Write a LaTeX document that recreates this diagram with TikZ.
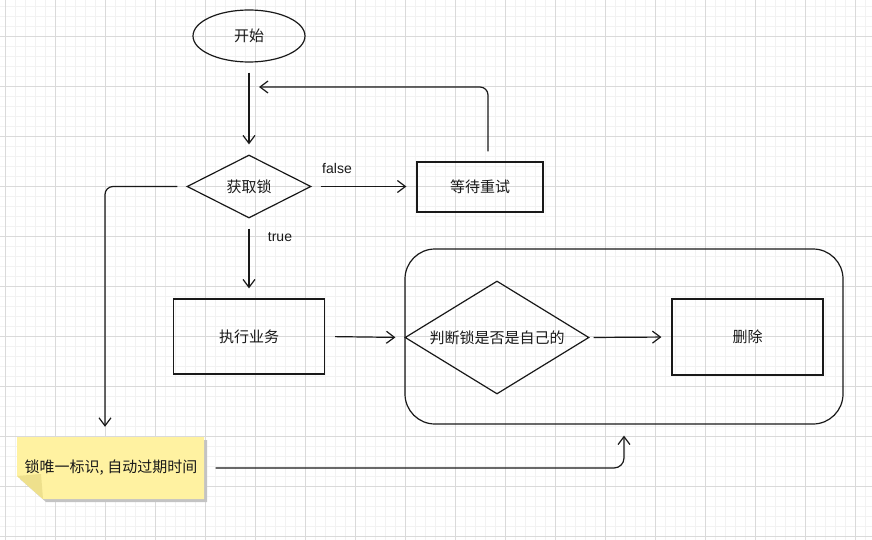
\documentclass[tikz,border=0pt]{standalone}
\usepackage{fontspec}
\setmainfont{Liberation Sans}
\newfontfamily\cjk{Noto Sans CJK SC}
\usepackage{tikz}
\usetikzlibrary{shapes.geometric,arrows.meta,calc}
\definecolor{minorgrid}{RGB}{242,242,242}
\definecolor{majorgrid}{RGB}{218,218,218}
\definecolor{notefill}{RGB}{255,242,161}
\definecolor{notefold}{RGB}{238,224,140}
\definecolor{noteshadow}{RGB}{195,195,195}
\definecolor{ink}{RGB}{25,25,25}

\begin{document}
\begin{tikzpicture}[x=1pt,y=-1pt,
  font=\cjk\fontsize{15}{17}\selectfont,
  every node/.style={text=ink},
  box/.style={draw=ink, line width=1.2pt, rectangle, inner sep=0pt},
  cond/.style={draw=ink, line width=1.2pt, diamond, aspect=1.6, inner sep=0pt},
  link/.style={draw=ink, line width=1.2pt, -{Straight Barb[length=8pt,width=12pt]},
    shorten >=10pt, shorten <=10pt},
  lbl/.style={font=\rmfamily\fontsize{14}{16}\selectfont}
]
\useasboundingbox (0,0) rectangle (872,540);
\fill[white] (0,0) rectangle (872,540);

% grid
\foreach \gx in {5,15,...,865}
    \draw[minorgrid, line width=0.8pt] (\gx,0) -- (\gx,540);
\foreach \gy in {6,16,...,536}
    \draw[minorgrid, line width=0.8pt] (0,\gy) -- (872,\gy);
\foreach \gx in {5,55,...,855}
    \draw[majorgrid, line width=0.8pt] (\gx,0) -- (\gx,540);
\foreach \gy in {36,86,...,536}
    \draw[majorgrid, line width=0.8pt] (0,\gy) -- (872,\gy);

% flow
\node[ellipse, draw=ink, line width=1.2pt, minimum width=112pt, minimum height=52pt] (start) at (249,36) {开始};
\node[cond, minimum width=124pt, minimum height=63pt] (lock) at (249,186.5) {获取锁};
\node[box, minimum width=126pt, minimum height=50pt] (wait) at (480,187) {等待重试};
\node[box, minimum width=151pt, minimum height=75pt] (exec) at (249,336.5) {执行业务};
\node[draw=ink, line width=1.2pt, rounded corners=30pt, minimum width=438pt, minimum height=175pt] (grp) at (624,336.5) {};
\node[cond, minimum width=184pt, minimum height=113pt] (check) at (497,337.5) {判断锁是否是自己的};
\node[box, minimum width=151pt, minimum height=76pt] (del) at (747.5,337) {删除};

% sticky note
\fill[noteshadow] (20,440) -- (207,440) -- (207,502) -- (46,502) -- (20,479) -- cycle;
\fill[notefill] (17,437) -- (204,437) -- (204,499) -- (43,499) -- (17,476) -- cycle;
\fill[notefold] (17,476) -- (41,474) -- (43,499) -- cycle;
\node[minimum width=187pt, minimum height=62pt, inner sep=0pt] (note) at (111,468) {锁唯一标识, 自动过期时间};

\coordinate (loopin) at (249,87);
\node[lbl] (flabel) at (337,168) {false};
\node[lbl] (tlabel) at (280,237) {true};

\draw[link] (start.south) -- (lock.north);
\draw[link, shorten <=9pt] (lock.east) -- (lock.east -| wait.west);
\draw[link, rounded corners=8pt] ([xshift=8pt]wait.north) |- (loopin);
\draw[link] (lock.south) -- (exec.north);
\draw[link, shorten >=9pt] (exec.east) -- (check.west);
\draw[link, shorten <=4pt] (check.east) -- (del.west);
\draw[link, rounded corners=8pt, shorten <=9pt] (lock.west) -| ([xshift=-6pt]note.north);
\draw[link, rounded corners=10pt, shorten <=11pt, shorten >=11pt] (note.east) -| (grp.south);
\end{tikzpicture}
\end{document}
